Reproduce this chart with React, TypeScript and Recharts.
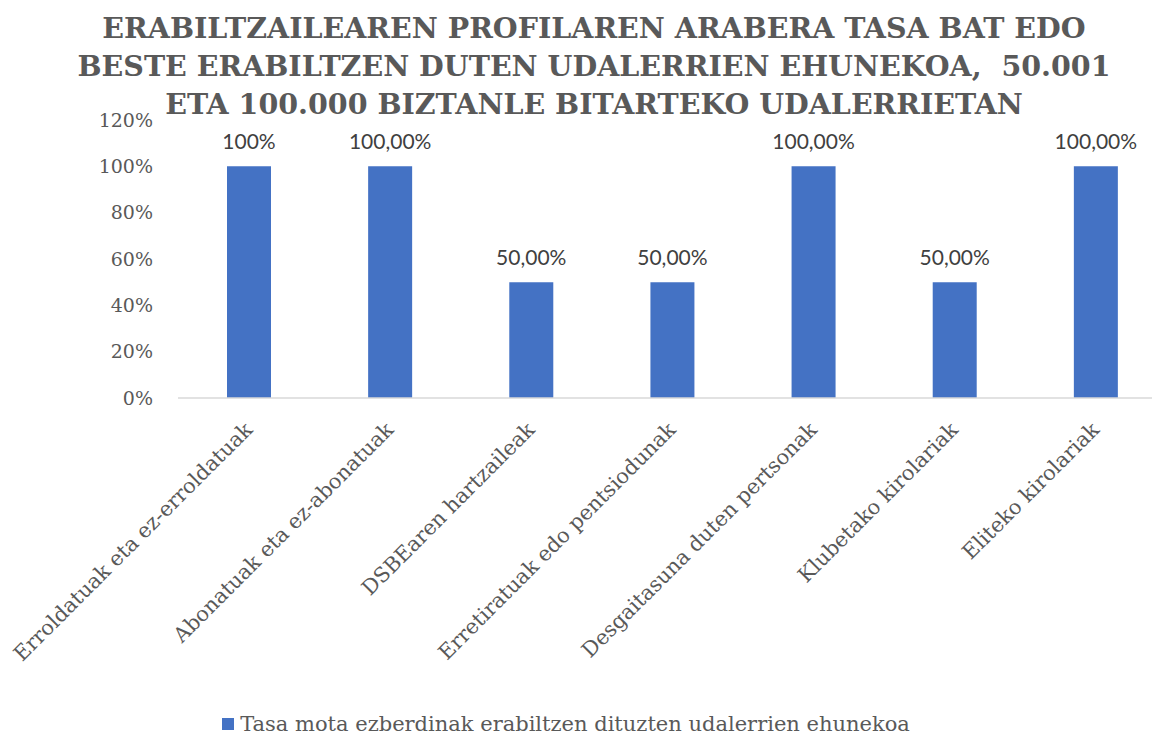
import React from "react";
import { BarChart, Bar, XAxis, YAxis, LabelList, Legend } from "recharts";

// profile categories (x axis)
const categories = [
  "Erroldatuak eta ez-erroldatuak",
  "Abonatuak eta ez-abonatuak",
  "DSBEaren hartzaileak",
  "Erretiratuak edo pentsiodunak",
  "Desgaitasuna duten pertsonak",
  "Klubetako kirolariak",
  "Eliteko kirolariak",
];

// share of municipalities, 0..1
const values = [1, 1, 0.5, 0.5, 1, 0.5, 1];

// labels as printed above the bars
const valueLabels = ["100%", "100,00%", "50,00%", "50,00%", "100,00%", "50,00%", "100,00%"];

const yTicks = [0, 0.2, 0.4, 0.6, 0.8, 1, 1.2];

const seriesName = "Tasa mota ezberdinak erabiltzen dituzten udalerrien ehunekoa";

const titleLines = [
  "ERABILTZAILEAREN PROFILAREN ARABERA TASA BAT EDO",
  "BESTE ERABILTZEN DUTEN UDALERRIEN EHUNEKOA,  50.001",
  "ETA 100.000 BIZTANLE BITARTEKO UDALERRIETAN",
];

const data = categories.map((name, i) => ({
  name,
  value: values[i],
  label: valueLabels[i],
}));

const SERIF = "'DejaVu Serif', serif";
const GRAY = "#595959";
const BLUE = "#4472C4";

function CategoryTick(props: any) {
  const { x, y, payload } = props;
  const ax = x + 5;
  const ay = y + 33;
  return (
    <text
      x={ax}
      y={ay}
      transform={`rotate(-45, ${ax}, ${ay})`}
      textAnchor="end"
      fontFamily={SERIF}
      fontSize={20.8}
      fill={GRAY}
    >
      {payload.value}
    </text>
  );
}

function LegendContent() {
  return (
    <div
      style={{
        display: "flex",
        justifyContent: "center",
        alignItems: "center",
        fontFamily: SERIF,
        fontSize: 21,
        color: GRAY,
        whiteSpace: "nowrap",
      }}
    >
      <span
        style={{
          display: "inline-block",
          width: 12,
          height: 12,
          background: BLUE,
          marginRight: 6,
        }}
      />
      {seriesName}
    </div>
  );
}

export default function App() {
  return (
    <div
      style={{
        position: "absolute",
        left: 0,
        top: 0,
        width: 1152,
        height: 738,
        overflow: "hidden",
        background: "#fff",
      }}
    >
      {/* chart title */}
      <div
        style={{
          position: "absolute",
          left: 18,
          top: 8.5,
          width: 1152,
          textAlign: "center",
          fontFamily: SERIF,
          fontWeight: "bold",
          fontSize: 28.5,
          lineHeight: "38px",
          color: GRAY,
          zIndex: 2,
          whiteSpace: "pre",
        }}
      >
        {titleLines.map((t) => (
          <div key={t}>{t}</div>
        ))}
      </div>

      <BarChart
        width={1180}
        height={738}
        data={data}
        margin={{ top: 120, right: 14, bottom: 0, left: 0 }}
      >
        <XAxis
          dataKey="name"
          height={340}
          interval={0}
          tick={<CategoryTick />}
          tickLine={false}
          tickSize={0}
          tickMargin={0}
          axisLine={{ stroke: "#d9d9d9", strokeWidth: 1.5 }}
        />
        <YAxis
          width={178}
          domain={[0, 1.2]}
          ticks={yTicks}
          axisLine={false}
          tickLine={false}
          tickSize={0}
          tickMargin={25}
          tickFormatter={(v: number) => `${Math.round(v * 100)}%`}
          tick={{ fontFamily: SERIF, fontSize: 19, fill: GRAY }}
        />
        <Legend
          layout="horizontal"
          verticalAlign="middle"
          align="center"
          content={<LegendContent />}
          wrapperStyle={{ top: 712, left: -10, width: 1152 }}
        />
        <Bar
          dataKey="value"
          name={seriesName}
          fill={BLUE}
          barSize={44}
          isAnimationActive={false}
        >
          <LabelList
            dataKey="label"
            position="top"
            offset={17}
            fill="#404040"
            fontFamily="Lato, sans-serif"
            fontSize={21}
          />
        </Bar>
      </BarChart>
    </div>
  );
}
